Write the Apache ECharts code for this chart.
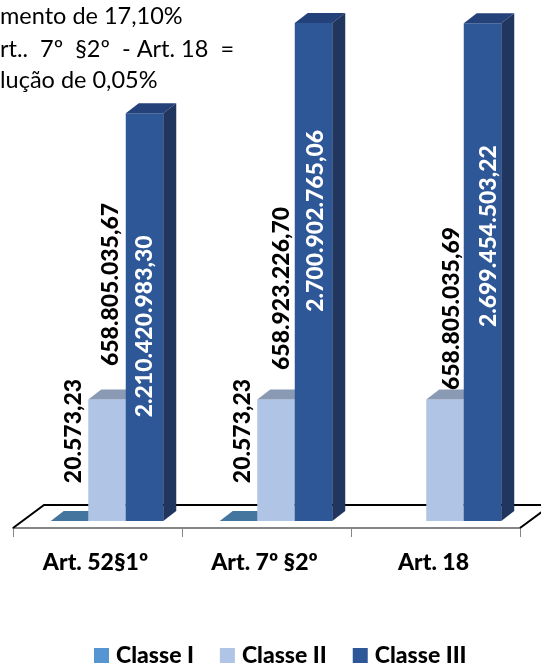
<!DOCTYPE html>
<html>
<head>
<meta charset="utf-8">
<style>
  html, body { margin: 0; padding: 0; background: #fff; }
  #root { width: 541px; height: 664px; }
</style>
<script src="https://cdn.jsdelivr.net/npm/echarts@6/dist/echarts.min.js"></script>
</head>
<body>
<div id="root"></div>
<script>
const categories = ['Art. 52§1º', 'Art. 7º §2º', 'Art. 18']
const classNames = ['Classe I', 'Classe II', 'Classe III']
const classeI = [20573.23, 20573.23, null]
const classeII = [658805035.67, 658923226.70, 658805035.69]
const classeIII = [2210420983.30, 2700902765.06, 2699454503.22]
const noteLines = ['mento de 17,10%', 'rt..  7º  §2º  - Art. 18  =', 'lução de 0,05%']

// cores de cada classe: frente, topo, lado
const faces = [
  { front: '#5596d2', top: '#44759f', side: '#3a6488', text: '#000' },
  { front: '#b0c4e5', top: '#8a9ab5', side: '#8a9ab5', text: '#000' },
  { front: '#2e5797', top: '#24417a', side: '#20365f', text: '#fff' }
]
// deslocamento dos rotulos em px: dx a partir do centro da barra, dy a partir do topo
const labelShift = [
  [[4, -90], [4, -90], [0, 0]],
  [[3.5, -115], [5.5, -111], [6.5, -91]],
  [[0, 213], [2, 198], [6, 213]]
]

const DEPTH_X = 13
const DEPTH_Y = 10
const BAR_RATIO = 37.5 / 169
const GROUP_SHIFT = 9.5
const FONT = 'Lato, Carlito, sans-serif'
const BIG = 23.5
const BOLD = 23

function brNumber(v) {
  let parts = v.toFixed(2).split('.')
  return parts[0].replace(/\B(?=(\d{3})+$)/g, '.') + ',' + parts[1]
}

function barItem(classIdx) {
  return function (params, api) {
    let cat = api.value(0)
    let val = api.value(1)
    if (val == null || isNaN(val)) return null
    let band = api.size([1, 0])[0]
    let w = band * BAR_RATIO
    let base = api.coord([cat, 0])
    let tip = api.coord([cat, val])
    let x0 = base[0] + GROUP_SHIFT + (classIdx - 1.5) * w
    let x1 = x0 + w
    let yb = base[1]
    let yt = tip[1]
    let f = faces[classIdx]
    let shift = labelShift[classIdx][cat]
    return {
      type: 'group',
      children: [
        { type: 'rect', shape: { x: x0, y: yt, width: w, height: yb - yt }, style: { fill: f.front } },
        { type: 'polygon', shape: { points: [[x0, yt], [x1, yt], [x1 + DEPTH_X, yt - DEPTH_Y], [x0 + DEPTH_X, yt - DEPTH_Y]] }, style: { fill: f.top } },
        { type: 'polygon', shape: { points: [[x1, yt], [x1 + DEPTH_X, yt - DEPTH_Y], [x1 + DEPTH_X, yb - DEPTH_Y], [x1, yb]] }, style: { fill: f.side } },
        {
          type: 'text',
          x: (x0 + x1) / 2 + shift[0],
          y: yt + shift[1],
          rotation: Math.PI / 2,
          z2: 10,
          style: {
            text: brNumber(val),
            fill: f.text,
            font: '900 ' + BOLD + 'px ' + FONT,
            align: 'center',
            verticalAlign: 'middle'
          }
        }
      ]
    }
  }
}

// piso do grafico (linha preta atras das barras)
function floorItem(params, api) {
  let left = api.coord([0, 0])
  let right = api.coord([categories.length - 1, 0])
  let band = api.size([1, 0])[0]
  let xa = left[0] - band / 2
  let xb = right[0] + band / 2
  let yf = left[1] + 7
  return {
    type: 'polyline',
    shape: { points: [[xa, yf], [xa + 31, yf - 23], [xb + 31, yf - 23], [xb, yf]] },
    style: { stroke: '#000', lineWidth: 2, fill: null }
  }
}

function seriesData(values) {
  return values.map((v, i) => [i, v])
}

let myChart = echarts.init(document.querySelector('#root'))

let option = {
  animation: false,
  backgroundColor: '#fff',
  textStyle: { fontFamily: FONT },
  grid: { left: 13, right: 21, top: 0, bottom: 143 },
  graphic: noteLines.map((t, i) => ({
    type: 'text',
    left: 0,
    top: [4, 37, 68][i],
    style: { text: t, fill: '#000', font: BIG + 'px ' + FONT }
  })),
  legend: {
    left: 89,
    top: 639,
    icon: 'rect',
    itemWidth: 15,
    itemHeight: 15,
    itemGap: 26,
    selectedMode: false,
    data: classNames,
    textStyle: { fontFamily: FONT, fontWeight: 900, fontSize: BOLD, color: '#000', padding: [0, 0, 0, 2] }
  },
  xAxis: {
    type: 'category',
    data: categories,
    offset: 7,
    axisLine: { show: true, onZero: false, lineStyle: { color: '#868686', width: 2 } },
    axisTick: { show: true, length: 9, lineStyle: { color: '#868686', width: 1 } },
    axisLabel: { fontFamily: FONT, fontWeight: 900, fontSize: BOLD, color: '#000', margin: 23, padding: [0, 4, 0, 0] }
  },
  yAxis: {
    type: 'value',
    min: 0,
    max: 2825000000,
    show: false,
    splitLine: { show: false }
  },
  series: [
    { type: 'custom', silent: true, renderItem: floorItem, data: [[0, 0]], z: 1, clip: false },
    { type: 'custom', name: classNames[0], renderItem: barItem(0), data: seriesData(classeI), itemStyle: { color: faces[0].front }, z: 2, encode: { x: 0, y: 1 } },
    { type: 'custom', name: classNames[1], renderItem: barItem(1), data: seriesData(classeII), itemStyle: { color: faces[1].front }, z: 3, encode: { x: 0, y: 1 } },
    { type: 'custom', name: classNames[2], renderItem: barItem(2), data: seriesData(classeIII), itemStyle: { color: faces[2].front }, z: 4, encode: { x: 0, y: 1 } }
  ]
}

myChart.setOption(option)

window.addEventListener('resize', function () {
  myChart.resize()
})
</script>
</body>
</html>
